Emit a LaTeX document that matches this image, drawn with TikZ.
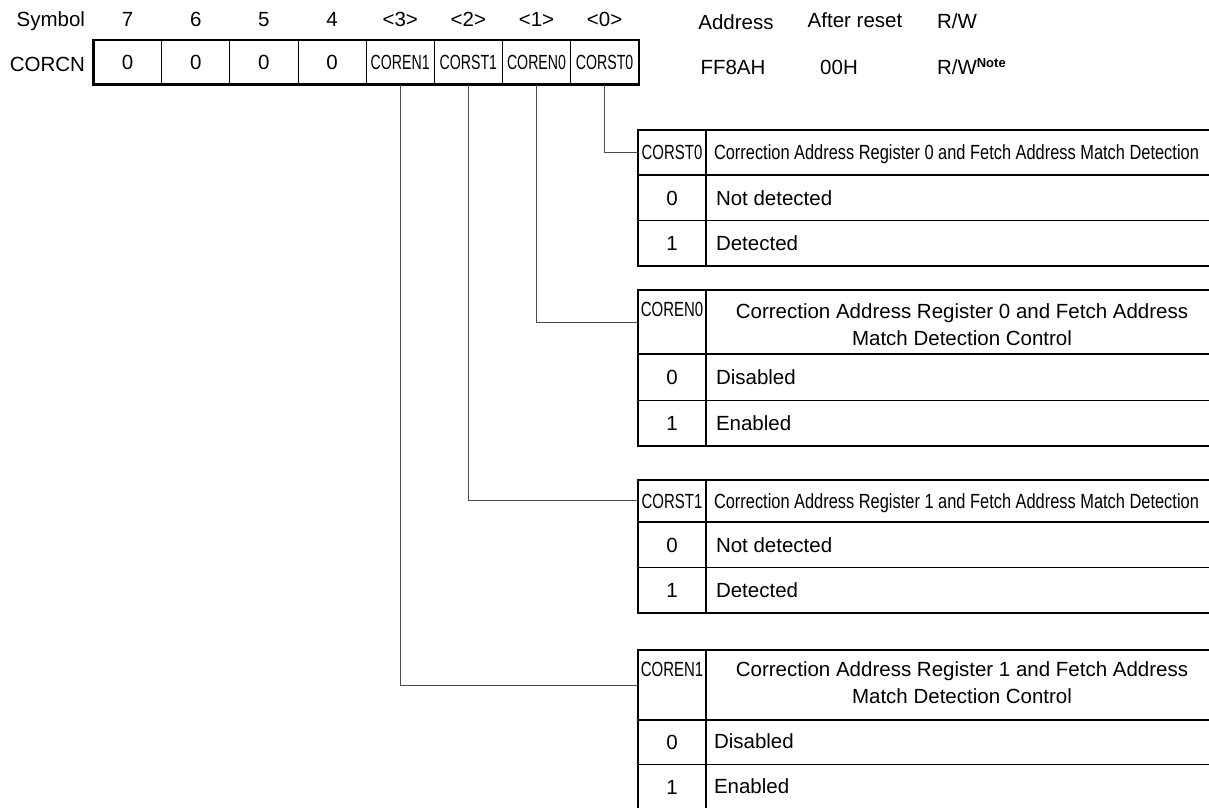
\documentclass[tikz,border=0pt]{standalone}
\usepackage{fontspec}
\setmainfont{Liberation Sans}
\newfontfamily\condA[FakeStretch=0.69]{Liberation Sans}
\newfontfamily\condB[FakeStretch=0.73]{Liberation Sans}
\newfontfamily\condC[FakeStretch=0.80]{Liberation Sans}
\begin{document}
\begin{tikzpicture}[x=1pt,y=-1pt,
  every node/.style={inner sep=0pt, outer sep=0pt, font=\fontsize{20.5}{26}\selectfont},
  lbl/.style={anchor=base},
  lblw/.style={anchor=base west},
  lble/.style={anchor=base east},
  regcell/.style={draw, line width=0.9pt, minimum width=68.15pt, minimum height=44.5pt},
  hcell/.style={minimum width=68pt},
  thk/.style={line width=2.2pt},
  thn/.style={line width=0.9pt},
  conn/.style={line width=1pt, draw=black!70}
]
\useasboundingbox (0,0) rectangle (1209,807);

% ---------- header row ----------
\node[lble] (symh) at (85,26) {Symbol};
\node[lbl] (n7) at (127.6,26) {7};
\node[lbl] (n6) at (195.75,26) {6};
\node[lbl] (n5) at (263.9,26) {5};
\node[lbl] (n4) at (332.05,26) {4};
\node[lbl] (n3) at (400.2,26) {<3>};
\node[lbl] (n2) at (468.35,26) {<2>};
\node[lbl] (n1) at (536.5,26) {<1>};
\node[lbl] (n0) at (604.65,26) {<0>};
\node[lbl] (addrh) at (736,29.5) {Address};
\node[lbl] (rsth) at (855,27) {After reset};
\node[lblw] (rwh) at (937,28.5) {R/W};

% ---------- register ----------
\node[lble] (regname) at (85,71.5) {CORCN};
\node[regcell] (b7) at (127.6,62.25) {0};
\node[regcell] (b6) at (195.75,62.25) {0};
\node[regcell] (b5) at (263.9,62.25) {0};
\node[regcell] (b4) at (332.05,62.25) {0};
\node[regcell] (b3) at (400.2,62.25) {\condA COREN1};
\node[regcell] (b2) at (468.35,62.25) {\condA CORST1};
\node[regcell] (b1) at (536.5,62.25) {\condA COREN0};
\node[regcell] (b0) at (604.65,62.25) {\condA CORST0};
\draw[thk] (b7.north west) rectangle (b0.south east);

\node[lbl] (addrv) at (733,74.5) {FF8AH};
\node[lbl] (rstv) at (839,74.5) {00H};
\node[lblw] (rwv) at (937,74.5) {R/W\raisebox{7pt}{\fontsize{13}{13}\selectfont\bfseries Note}};

% ---------- table CORST0 ----------
\draw[thk] (1212,130) -- (638,130) -- (638,266) -- (1212,266);
\draw[thk] (706,130) -- (706,266);
\draw[thk] (638,175) -- (1212,175);
\draw[thn] (638,220.7) -- (1212,220.7);
\node[hcell, minimum height=45pt] (h0) at (672,152.5) {};
\node[lbl] (h0l) at (672,159.8) {\condB CORST0};
\node[lblw] (d0) at (714,159.8) {\condC Correction Address Register 0 and Fetch Address Match Detection};
\node[lbl] (v00) at (672,205.15) {0};
\node[lblw] (t00) at (716,205.15) {Not detected};
\node[lbl] (v01) at (672,250.65) {1};
\node[lblw] (t01) at (716,250.65) {Detected};

% ---------- table COREN0 ----------
\draw[thk] (1212,290) -- (638,290) -- (638,446) -- (1212,446);
\draw[thk] (706,290) -- (706,446);
\draw[thk] (638,354) -- (1212,354);
\draw[thn] (638,400) -- (1212,400);
\node[hcell, minimum height=64pt] (h1) at (672,322) {};
\node[lbl] (h1l) at (672,316.5) {\condB COREN0};
\node[lbl] (d1a) at (962,318.5) {Correction Address Register 0 and Fetch Address};
\node[lbl] (d1b) at (962,345.5) {Match Detection Control};
\node[lbl] (v10) at (672,384.3) {0};
\node[lblw] (t10) at (716,384.3) {Disabled};
\node[lbl] (v11) at (672,430.3) {1};
\node[lblw] (t11) at (716,430.3) {Enabled};

% ---------- table CORST1 ----------
\draw[thk] (1212,480) -- (638,480) -- (638,612.7) -- (1212,612.7);
\draw[thk] (706,480) -- (706,612.7);
\draw[thk] (638,521.7) -- (1212,521.7);
\draw[thn] (638,567.7) -- (1212,567.7);
\node[hcell, minimum height=41.7pt] (h2) at (672,500.85) {};
\node[lbl] (h2l) at (672,508.15) {\condB CORST1};
\node[lblw] (d2) at (714,508.15) {\condC Correction Address Register 1 and Fetch Address Match Detection};
\node[lbl] (v20) at (672,552) {0};
\node[lblw] (t20) at (716,552) {Not detected};
\node[lbl] (v21) at (672,597.5) {1};
\node[lblw] (t21) at (716,597.5) {Detected};

% ---------- table COREN1 ----------
\draw[thk] (1212,650) -- (638,650) -- (638,812);
\draw[thk] (706,650) -- (706,812);
\draw[thk] (638,720) -- (1212,720);
\draw[thn] (638,764) -- (1212,764);
\node[hcell, minimum height=70pt] (h3) at (672,685) {};
\node[lbl] (h3l) at (672,676) {\condB COREN1};
\node[lbl] (d3a) at (962,676.5) {Correction Address Register 1 and Fetch Address};
\node[lbl] (d3b) at (962,703.5) {Match Detection Control};
\node[lbl] (v30) at (672,749.3) {0};
\node[lblw] (t30) at (714,748.3) {Disabled};
\node[lbl] (v31) at (672,794.3) {1};
\node[lblw] (t31) at (714,793.3) {Enabled};

% ---------- connectors ----------
\draw[conn] (b0.south) |- (h0.west);
\draw[conn] (b1.south) |- (h1.west);
\draw[conn] (b2.south) |- (h2.west);
\draw[conn] (b3.south) |- (h3.west);
\end{tikzpicture}
\end{document}
